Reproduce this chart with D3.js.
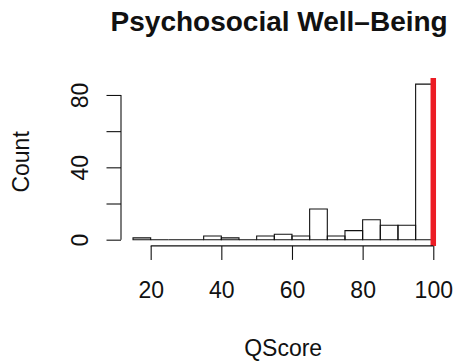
<!DOCTYPE html>
<html>
<head>
<meta charset="utf-8">
<script src="https://cdn.jsdelivr.net/npm/d3@7"></script>
<style>
  html, body { margin: 0; padding: 0; background: #fff; }
  svg { display: block; }
  text { font-family: "Liberation Sans", Helvetica, Arial, sans-serif; fill: #111; }
</style>
</head>
<body>
<svg id="chart" width="453" height="361"></svg>
<script>
// Histogram bins (lower edges) and counts
const binStarts = [15, 20, 25, 30, 35, 40, 45, 50, 55, 60, 65, 70, 75, 80, 85, 90, 95];
const binWidth = 5;
const counts = [1, 0, 0, 0, 2, 1, 0, 2, 3, 2, 17, 2, 5, 11, 8, 8, 86];
const xTicks = [20, 40, 60, 80, 100];
const yTicks = [0, 20, 40, 60, 80];
const yTickLabels = ["0", "", "40", "", "80"];
const markerValue = 100;
const title = "Psychosocial Well\u2013Being";
const xLabel = "QScore";
const yLabel = "Count";

const FONT = "Liberation Sans, Helvetica, Arial, sans-serif";
const svg = d3.select("#chart");

// Data range padded by 4% on each side
const xMin = binStarts[0], xMax = binStarts[binStarts.length - 1] + binWidth;
const xPad = (xMax - xMin) * 0.04;
const yMax = d3.max(counts);
const yPad = yMax * 0.04;

const plot = { left: 121, right: 445.3, top: 77.9, bottom: 245.9 };

const x = d3.scaleLinear().domain([xMin - xPad, xMax + xPad]).range([plot.left, plot.right]);
const y = d3.scaleLinear().domain([-yPad, yMax + yPad]).range([plot.bottom, plot.top]);

// Bars drawn as closed outlines so empty bins still show along the baseline
svg.append("g")
  .selectAll("path")
  .data(binStarts.map((s, i) => ({ s, c: counts[i] })))
  .join("path")
  .attr("d", d => {
    const x0 = x(d.s), x1 = x(d.s + binWidth), y0 = y(0), y1 = y(d.c);
    return `M${x0},${y0}L${x0},${y1}L${x1},${y1}L${x1},${y0}Z`;
  })
  .attr("fill", "none")
  .attr("stroke", "#111")
  .attr("stroke-width", 1.1);

// Reference line
svg.append("line")
  .attr("x1", x(markerValue)).attr("x2", x(markerValue))
  .attr("y1", plot.top).attr("y2", plot.bottom)
  .attr("stroke", "#ec1c24")
  .attr("stroke-width", 5.5);

// X axis
const xAxis = d3.axisBottom(x).tickValues(xTicks).tickSize(14).tickPadding(22).tickSizeOuter(0);
const gx = svg.append("g").attr("transform", `translate(0,${plot.bottom})`).call(xAxis);
gx.select(".domain").remove();
gx.append("line")
  .attr("x1", x(xTicks[0])).attr("x2", x(xTicks[xTicks.length - 1]))
  .attr("stroke", "#111").attr("stroke-width", 1.1);
gx.selectAll(".tick line").attr("stroke", "#111").attr("stroke-width", 1.1);
gx.selectAll(".tick text")
  .style("font-size", "23px")
  .style("font-family", FONT)
  .attr("fill", "#111");

// Y axis
const yAxis = d3.axisLeft(y).tickValues(yTicks).tickSize(14.5).tickFormat((d, i) => yTickLabels[i]).tickSizeOuter(0);
const gy = svg.append("g").attr("transform", `translate(${plot.left},0)`).call(yAxis);
gy.select(".domain").remove();
gy.append("line")
  .attr("y1", y(yTicks[0])).attr("y2", y(yTicks[yTicks.length - 1]))
  .attr("stroke", "#111").attr("stroke-width", 1.1);
gy.selectAll(".tick line").attr("stroke", "#111").attr("stroke-width", 1.1);
gy.selectAll(".tick text")
  .attr("x", null).attr("dy", null)
  .attr("transform", "translate(-33,0) rotate(-90)")
  .attr("text-anchor", "middle")
  .style("font-size", "23px")
  .style("font-family", FONT)
  .attr("fill", "#111");

// Titles
svg.append("text")
  .attr("x", (plot.left + plot.right) / 2 - 4)
  .attr("y", 31)
  .attr("text-anchor", "middle")
  .style("font-size", "28px")
  .style("font-weight", "bold")
  .text(title);

svg.append("text")
  .attr("x", (plot.left + plot.right) / 2)
  .attr("y", 356)
  .attr("text-anchor", "middle")
  .style("font-size", "23px")
  .text(xLabel);

svg.append("text")
  .attr("transform", `translate(29,${(plot.top + plot.bottom) / 2}) rotate(-90)`)
  .attr("text-anchor", "middle")
  .style("font-size", "23px")
  .text(yLabel);
</script>
</body>
</html>
